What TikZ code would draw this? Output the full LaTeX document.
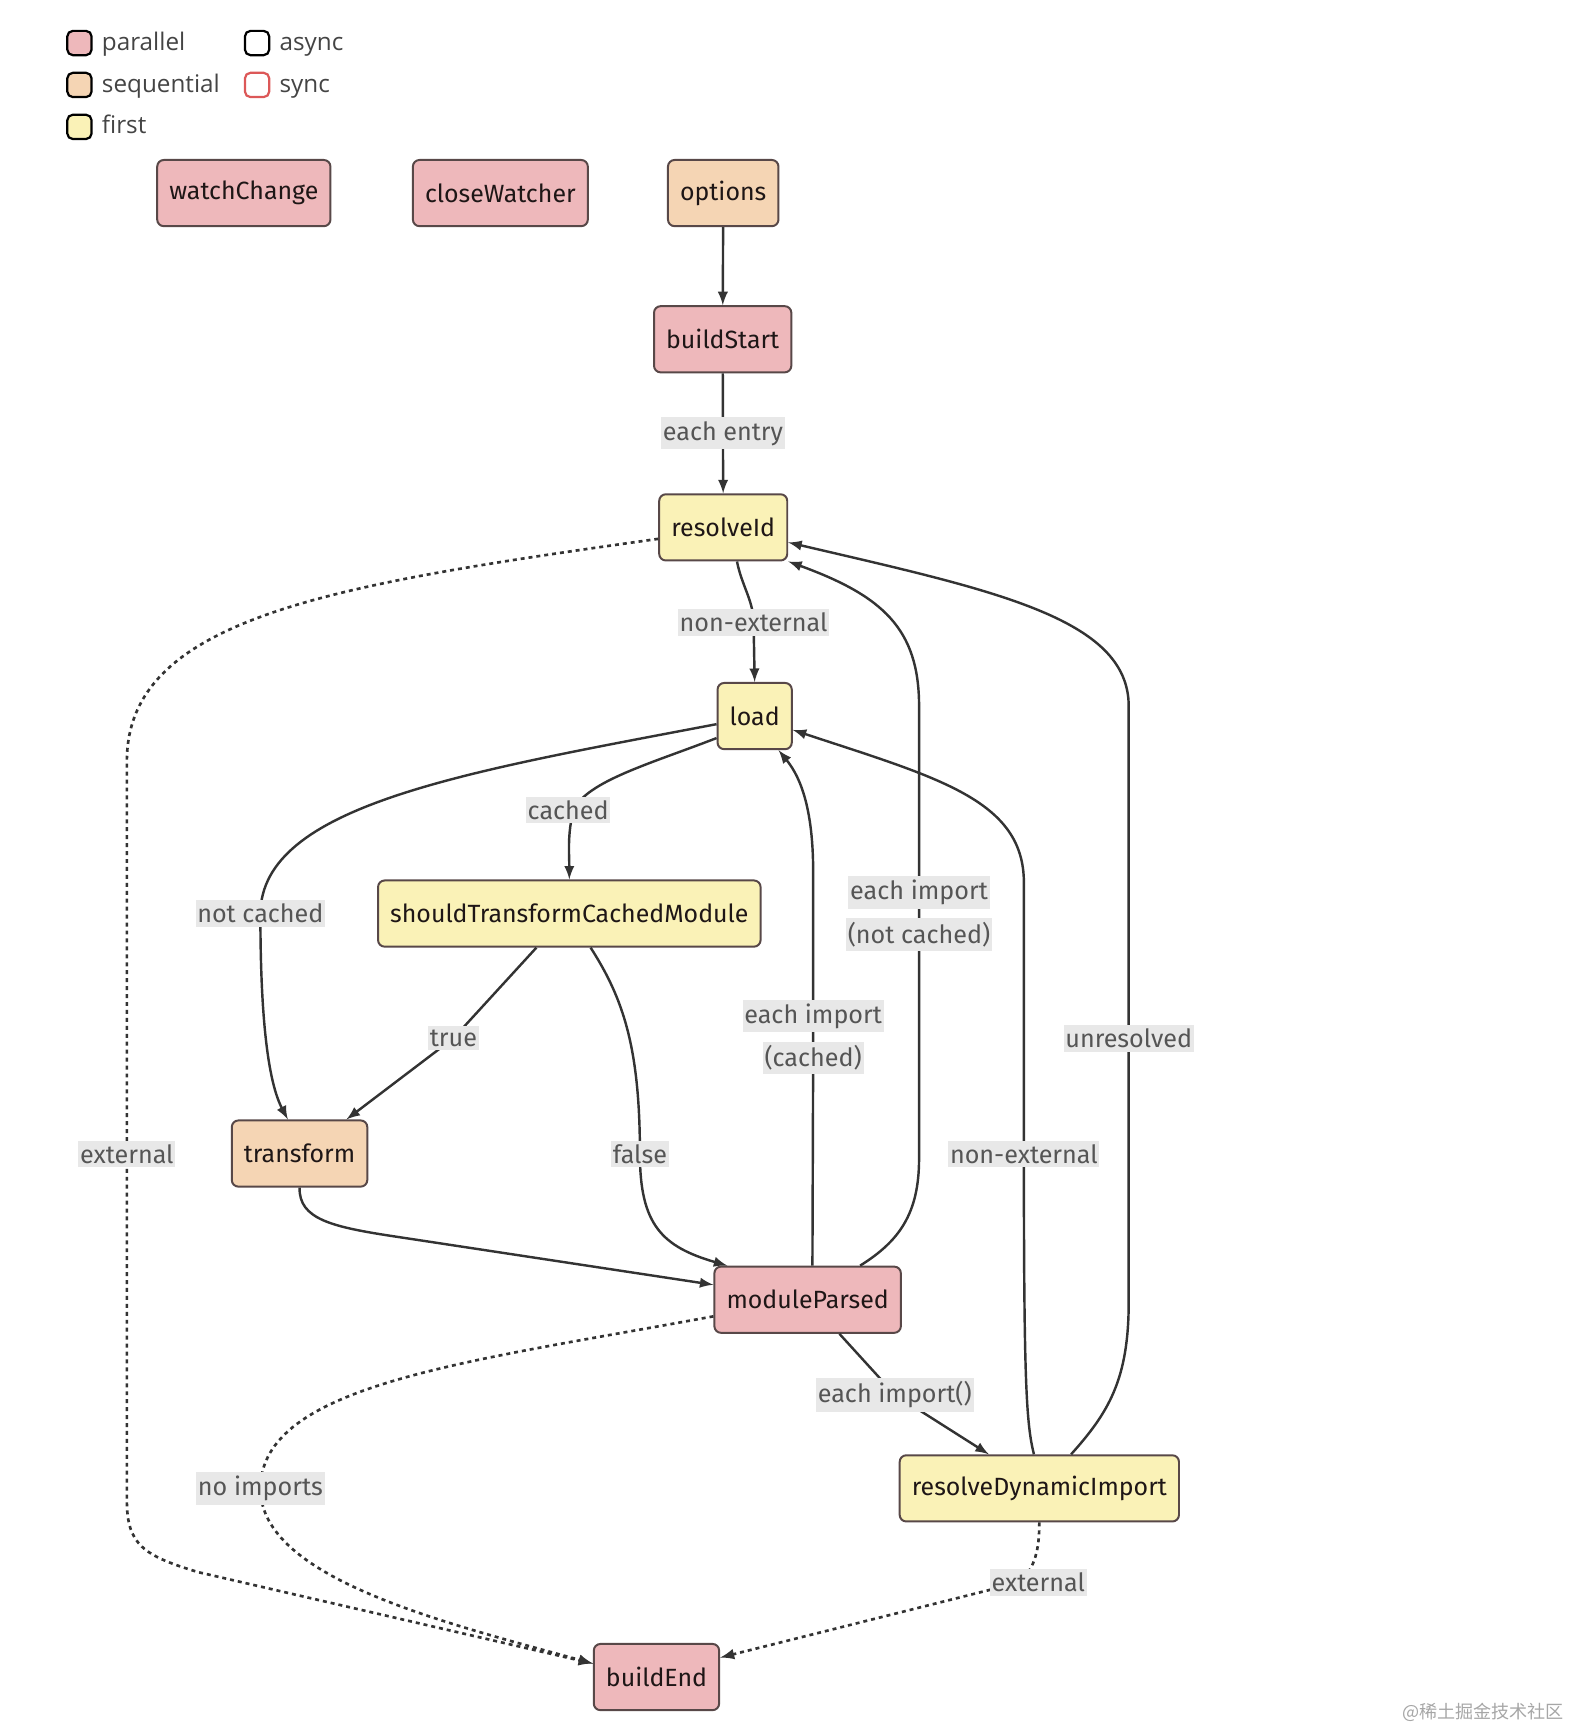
\documentclass[tikz,border=0pt]{standalone}
\usepackage{fontspec}
\setmainfont{Fira Sans}
\newfontfamily\legfont{Open Sans}
\newfontfamily\cjk{Noto Sans CJK SC}
\usepackage{tikz}
\usetikzlibrary{positioning}
\usetikzlibrary{shapes,arrows}
\definecolor{parcol}{RGB}{238,184,187}
\definecolor{seqcol}{RGB}{245,213,180}
\definecolor{firstcol}{RGB}{250,242,183}
\definecolor{bordcol}{RGB}{88,72,72}
\definecolor{synccol}{RGB}{220,88,88}
\definecolor{edgecol}{RGB}{51,51,51}
\definecolor{lblfill}{RGB}{232,232,232}
\definecolor{lbltext}{RGB}{85,85,85}
\definecolor{legcol}{RGB}{68,68,68}
\definecolor{nodetext}{RGB}{30,22,22}

\begin{document}
\begin{tikzpicture}[x=0.5pt,y=-0.5pt,
        hook/.style = {draw=bordcol, line width=0.9pt, rounded corners=3pt, minimum height=30pt, inner xsep=5.5pt, inner ysep=0pt, text=nodetext, font=\fontsize{11.3}{13}\selectfont},
]
\tikzstyle{parhook}=[hook, fill=parcol]
\tikzstyle{seqhook}=[hook, fill=seqcol]
\tikzstyle{firsthook}=[hook, fill=firstcol]
\tikzstyle{lbl}=[fill=lblfill, text=lbltext, inner xsep=0.8pt, inner ysep=1.7pt, font=\fontsize{11.4}{13}\selectfont]
\tikzstyle{connect}=[-latex, line width=1.1pt, draw=edgecol]
\tikzstyle{dots}=[connect, line width=1.2pt, dash pattern=on 1.8pt off 1.8pt]
\tikzstyle{key}=[draw, line width=1pt, rounded corners=2.5pt, minimum size=11pt, inner sep=0pt]
\tikzstyle{keytext}=[inner sep=0pt, text height=9pt, text depth=2.6pt, text=legcol, font=\legfont\fontsize{11}{13}\selectfont]

	\useasboundingbox (0,0) rectangle (1424,1568);

	% legend
	\node[key, fill=parcol] (k1) at (72,39) {};
	\node[keytext, right=4pt of k1] (t1) {parallel};
	\node[key, fill=seqcol] (k2) at (72,77) {};
	\node[keytext, right=4pt of k2] (t2) {sequential};
	\node[key, fill=firstcol] (k3) at (72,115) {};
	\node[keytext, right=4pt of k3] (t3) {first};
	\node[key, fill=white] (k4) at (233,39) {};
	\node[keytext, right=4pt of k4] (t4) {async};
	\node[key, draw=synccol, fill=white] (k5) at (233,77) {};
	\node[keytext, right=4pt of k5] (t5) {sync};

	\pgfmathsetmacro{\posv}{175};

	\node[parhook] (wc) at (221,\posv) {watchChange};
	\node[parhook] (cw) at (453.5,\posv) {closeWatcher};
	\node[seqhook] (opt) at (655.5,\posv) {options};

	\node[parhook] (bst) at (655,307.5) {buildStart};
	\node[firsthook] (rid) at (655.5,478) {resolveId};
	\node[firsthook] (ld) at (684,649) {load};
	\node[firsthook] (stcm) at (516,828) {shouldTransformCachedModule};
	\node[seqhook] (tf) at (271.5,1045.5) {transform};
	\node[parhook] (mp) at (732,1178) {moduleParsed};
	\node[firsthook] (rdi) at (942,1349) {resolveDynamicImport};
	\node[parhook] (bend) at (595,1520) {buildEnd};

	\path (opt) edge [connect] (bst)
	      (bst) edge [connect] node[lbl] (l1) {each entry} (rid);

	\draw[connect] (rid.-68) .. controls (672,530) and (683,545) .. (683,564) node[lbl] (l2) {non-external} -- (ld.north);
	\draw[connect] (ld.210) .. controls (590,692) and (532,708) .. (520,734) node[lbl, xshift=-2.5pt] (l3) {cached} .. controls (514,755) and (516,775) .. (stcm.north);
	\draw[connect] (ld.192) .. controls (420,700) and (237,730) .. (236,828) node[lbl] (l4) {not cached} .. controls (236,900) and (240,975) .. (tf.109);
	\draw[connect] (stcm.226) -- (411,941) node[lbl] (l5) {true} -- (tf.36);
	\draw[connect] (stcm.-58) .. controls (565,905) and (580,950) .. (580,1046) node[lbl] (l6) {false} .. controls (580,1110) and (600,1130) .. (mp.157);
	\draw[connect] (tf.south) .. controls (271,1105) and (300,1112) .. (360,1121) -- (mp.171);

	\draw[connect] (mp.82) -- (737,959) node[lbl] (l7b) {(cached)} -- (737,921) node[lbl] (l7a) {each import} -- (737,790) .. controls (737,725) and (722,700) .. (ld.-55);
	\draw[connect] (mp.33) .. controls (815,1125) and (833,1100) .. (833,1050) -- (833,847) node[lbl] (l8b) {(not cached)} -- (833,809) node[lbl] (l8a) {each import} -- (833,640) .. controls (833,570) and (800,540) .. (rid.south east);
	\draw[connect] (mp.-47) -- (811,1264) node[lbl] (l9) {each import()} -- (rdi.146);
	\draw[connect] (rdi.99) .. controls (930,1290) and (928,1250) .. (928,1046) node[lbl] (l10) {non-external} -- (928,800) .. controls (928,725) and (850,705) .. (ld.-20);
	\draw[connect] (rdi.47) .. controls (1005,1280) and (1023,1250) .. (1023,1180) -- (1023,941) node[lbl] (l11) {unresolved} -- (1023,640) .. controls (1023,560) and (900,535) .. (rid.-13);

	% dotted
	\draw[dots] (rid.190) .. controls (300,530) and (115,560) .. (115,690) -- (115,1046) node[lbl] (l12) {external} -- (115,1360) .. controls (115,1400) and (130,1410) .. (180,1425) -- (bend.168);
	\draw[dots] (mp.190) .. controls (420,1235) and (237,1255) .. (236,1349) node[lbl] (l13) {no imports} .. controls (236,1430) and (400,1470) .. (bend.168);
	\draw[dots] (rdi.south) .. controls (942,1405) and (938,1420) .. (925,1434) node[lbl, xshift=8pt] (l14) {external} -- (bend.17);

	\node[anchor=east, inner sep=0pt, text=black!35, font=\cjk\fontsize{8.2}{10}\selectfont] (wm) at (1418,1552) {@稀土掘金技术社区};

\end{tikzpicture}
\end{document}
